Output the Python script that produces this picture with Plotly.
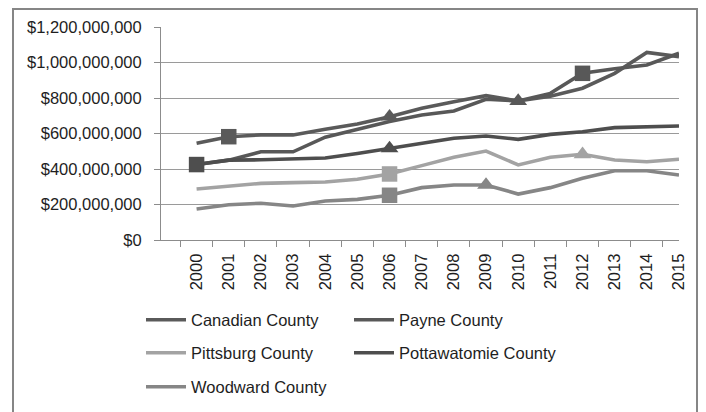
import plotly.graph_objects as go

years = [str(y) for y in range(2000, 2016)]

canadian = [545, 582, 592, 592, 624, 654, 695, 742, 779, 813, 783, 810, 855, 939, 1057, 1033]
payne = [425, 450, 497, 497, 579, 624, 667, 704, 727, 793, 783, 826, 939, 965, 986, 1052]
pittsburg = [287, 304, 319, 323, 327, 342, 372, 419, 466, 501, 423, 466, 483, 451, 441, 455]
pottawatomie = [425, 450, 452, 455, 462, 487, 516, 548, 573, 586, 567, 595, 610, 633, 638, 642]
woodward = [175, 199, 207, 192, 220, 229, 252, 295, 310, 310, 259, 295, 348, 390, 390, 366]

series_names = ["Canadian County", "Payne County", "Pittsburg County",
                "Pottawatomie County", "Woodward County"]
series_values = [canadian, payne, pittsburg, pottawatomie, woodward]
series_colors = ["#5a5a5a", "#585858", "#a3a3a3", "#4e4e4e", "#868686"]
legend_slots = ["legend", "legend", "legend2", "legend2", "legend3"]

# highlighted points (year) per series
square_years = ["2001", "2012", "2006", "2000", "2006"]
triangle_years = ["2006", "2010", "2012", "2006", "2009"]

fig = go.Figure()
for name, vals, col, lg in zip(series_names, series_values, series_colors, legend_slots):
    fig.add_trace(go.Scatter(
        x=years, y=[v * 1e6 for v in vals], mode="lines", name=name, legend=lg,
        line=dict(color=col, width=3.6), hoverinfo="skip"))

for name, vals, col, sy, ty in zip(series_names, series_values, series_colors,
                                   square_years, triangle_years):
    si = years.index(sy)
    ti = years.index(ty)
    fig.add_trace(go.Scatter(
        x=[sy], y=[vals[si] * 1e6], mode="markers", showlegend=False,
        marker=dict(symbol="square", size=15.5, color=col), hoverinfo="skip"))
    fig.add_trace(go.Scatter(
        x=[ty], y=[vals[ti] * 1e6], mode="markers", showlegend=False,
        marker=dict(symbol="triangle-up", size=15.5, color=col), hoverinfo="skip"))

font_family = "Liberation Sans"
# page body has an 8px margin, so figure coords = screen coords - 8
OFF = 8
plot_l, plot_r, plot_t, plot_b = 161 - OFF, 679 - OFF, 27 - OFF, 240 - OFF
pw, ph = plot_r - plot_l, plot_b - plot_t


def px_x(x):
    return (x - plot_l) / pw


def px_y(y):
    return (plot_b - y) / ph


leg_common = dict(orientation="h", xanchor="left", yanchor="middle",
                  entrywidth=153, entrywidthmode="pixels", itemwidth=40,
                  font=dict(size=16.5, family=font_family, color="#1e1e1e"),
                  bgcolor="rgba(0,0,0,0)", borderwidth=0)

fig.update_layout(
    width=706, height=412,
    margin=dict(l=plot_l, r=706 - plot_r, t=plot_t, b=412 - plot_b, autoexpand=False),
    paper_bgcolor="white", plot_bgcolor="white",
    font=dict(family=font_family, size=16, color="#1e1e1e"),
    xaxis=dict(type="category", tickson="boundaries", ticks="outside", ticklen=6,
               tickcolor="#8c8c8c", tickangle=-90, showgrid=False,
               showline=True, linecolor="#8c8c8c", linewidth=1, automargin=False,
               tickfont=dict(size=16.5), ticklabelstandoff=6),
    yaxis=dict(range=[0, 1.2e9], dtick=2e8, tickprefix="$", tickformat=",d",
               showgrid=True, gridcolor="#9a9a9a", gridwidth=1,
               ticks="outside", ticklen=6, tickcolor="#8c8c8c",
               showline=True, linecolor="#8c8c8c", linewidth=1, automargin=False,
               zeroline=False, tickfont=dict(size=16.5), ticklabelstandoff=9),
    legend=dict(x=px_x(133), y=px_y(312), **leg_common),
    legend2=dict(x=px_x(133), y=px_y(345), **leg_common),
    legend3=dict(x=px_x(133), y=px_y(379), **leg_common),
    shapes=[dict(type="rect", xref="paper", yref="paper",
                 x0=px_x(13 - OFF), x1=px_x(697 - OFF), y0=px_y(430), y1=px_y(1),
                 line=dict(color="#868686", width=2), layer="above")],
)

fig.write_html("out.html")
